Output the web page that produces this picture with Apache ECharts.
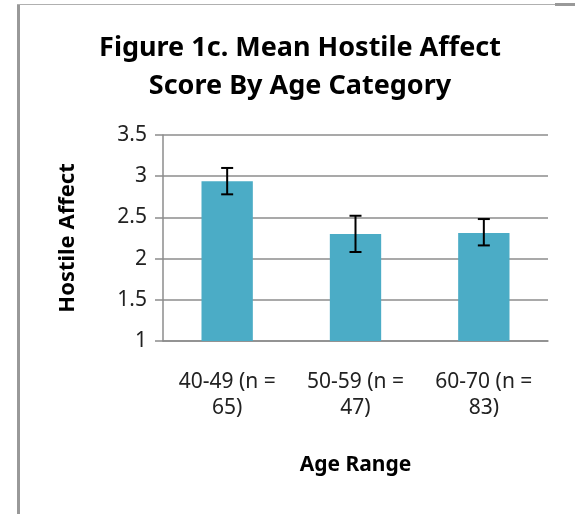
<!DOCTYPE html>
<html>
<head>
<meta charset="utf-8">
<script src="https://cdn.jsdelivr.net/npm/echarts@6/dist/echarts.min.js"></script>
<style>
  html, body { margin: 0; padding: 0; background: #fff; }
  #chart { width: 575px; height: 514px; }
</style>
</head>
<body>
<div id="chart"></div>
<script>
// data
const categories = ['40-49 (n =\n65)', '50-59 (n =\n47)', '60-70 (n =\n83)']
const meanScores = [2.94, 2.30, 2.31]
const errLow = [2.78, 2.08, 2.16]
const errHigh = [3.10, 2.52, 2.48]

const barColor = '#4bacc6'
const fontFamily = '"Noto Sans", "Open Sans", sans-serif'

const chart = echarts.init(document.getElementById('chart'))

chart.setOption({
  animation: false,
  title: {
    text: 'Figure 1c. Mean Hostile Affect\nScore By Age Category',
    left: 295,
    top: 24,
    textAlign: 'center',
    textStyle: {
      fontFamily: fontFamily,
      fontSize: 27,
      fontWeight: 'bold',
      color: '#000',
      lineHeight: 38
    }
  },
  // frame lines of the original picture
  graphic: [
    { type: 'rect', shape: { x: 17, y: 4, width: 3, height: 510 }, style: { fill: '#999' } },
    { type: 'rect', shape: { x: 17, y: 4, width: 538, height: 1 }, style: { fill: '#b0b0b0' } },
    { type: 'rect', shape: { x: 555, y: 3, width: 20, height: 3 }, style: { fill: '#999' } }
  ],
  grid: {
    left: 163,
    right: 27,
    top: 135,
    bottom: 173
  },
  xAxis: {
    type: 'category',
    data: categories,
    name: 'Age Range',
    nameLocation: 'middle',
    nameGap: 114,
    nameTextStyle: {
      fontFamily: fontFamily,
      fontSize: 21,
      fontWeight: 'bold',
      color: '#000'
    },
    axisLine: { lineStyle: { color: '#8c8c8c', width: 1.5 } },
    axisTick: { show: false },
    axisLabel: {
      interval: 0,
      margin: 28,
      fontFamily: fontFamily,
      fontSize: 21,
      lineHeight: 26,
      color: '#222'
    }
  },
  yAxis: {
    type: 'value',
    min: 1,
    max: 3.5,
    interval: 0.5,
    name: 'Hostile Affect',
    nameLocation: 'middle',
    nameGap: 84,
    nameTextStyle: {
      fontFamily: fontFamily,
      fontSize: 22,
      fontWeight: 'bold',
      color: '#000'
    },
    axisLine: { show: true, lineStyle: { color: '#8c8c8c', width: 1.5 } },
    axisTick: { show: true, length: 8, lineStyle: { color: '#8c8c8c', width: 1.5 } },
    axisLabel: {
      margin: 16,
      fontFamily: fontFamily,
      fontSize: 21,
      color: '#222'
    },
    splitLine: { lineStyle: { color: '#8c8c8c', width: 1.5 } }
  },
  series: [
    {
      type: 'bar',
      data: meanScores,
      barWidth: '40%',
      itemStyle: { color: barColor }
    },
    {
      type: 'custom',
      z: 10,
      data: categories.map((c, i) => [i, errLow[i], errHigh[i]]),
      renderItem(params, api) {
        const lo = api.coord([api.value(0), api.value(1)])
        const hi = api.coord([api.value(0), api.value(2)])
        const half = 6
        const style = { stroke: '#000', lineWidth: 2 }
        return {
          type: 'group',
          children: [
            { type: 'line', shape: { x1: hi[0], y1: hi[1], x2: lo[0], y2: lo[1] }, style },
            { type: 'line', shape: { x1: hi[0] - half, y1: hi[1], x2: hi[0] + half, y2: hi[1] }, style },
            { type: 'line', shape: { x1: lo[0] - half, y1: lo[1], x2: lo[0] + half, y2: lo[1] }, style }
          ]
        }
      }
    }
  ]
})
</script>
</body>
</html>
